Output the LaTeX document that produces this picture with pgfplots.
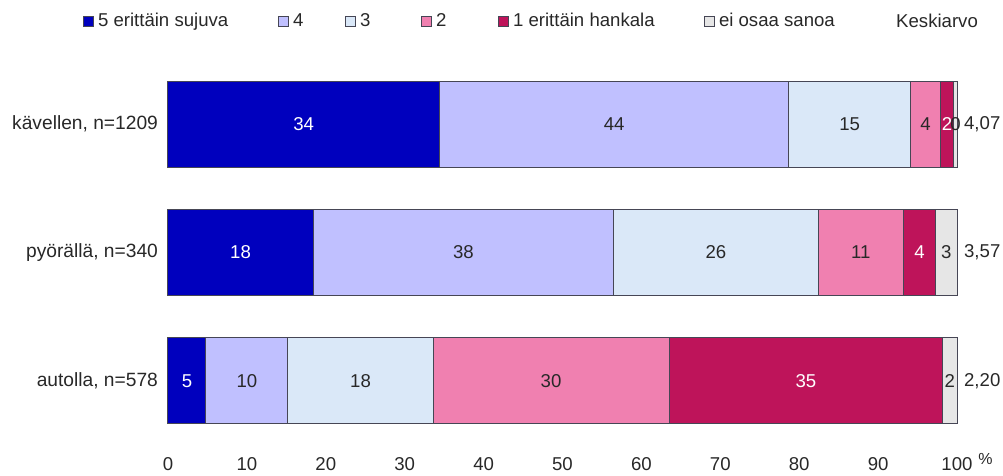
\documentclass[border=0pt]{standalone}
\usepackage{pgfplots}
\pgfplotsset{compat=1.18}
\usepackage{pgfplotstable}
\usepackage{fontspec}
\setmainfont{Liberation Sans}
\definecolor{c5}{RGB}{0,0,190}
\definecolor{c4}{RGB}{192,192,255}
\definecolor{c3}{RGB}{218,232,248}
\definecolor{c2}{RGB}{240,128,176}
\definecolor{c1}{RGB}{190,20,90}
\definecolor{c0}{RGB}{230,230,230}
\definecolor{edge}{RGB}{70,70,85}
\definecolor{txt}{RGB}{40,40,40}

\pgfplotstableread{
row s5 s4 s3 s2 s1 s0
0 34.4 44.3 15.4 3.8 1.7 0.4
1 18.4 38.1 25.9 10.8 4.1 2.7
2 4.8 10.4 18.4 29.9 34.7 1.8
}\data

\pgfplotsset{
  seg/.style={fill=#1, draw=edge, line width=0.5pt},
  lab/.style={draw=none, mark=none, point meta=explicit,
    nodes near coords={\pgfmathprintnumber[fixed,precision=0]{\pgfplotspointmeta}},
    every node near coord/.append style={anchor=center, text=#1}},
  common/.style={at={(84pt,15.5pt)}, anchor=south west,
    scale only axis, width=394.5pt, height=192.5pt,
    xmin=0, xmax=100, ymin=-0.5, ymax=2.5, y dir=reverse, clip=false,
    /pgf/number format/assume math mode=true},
}

\begin{document}
\begin{tikzpicture}[font=\fontsize{9.3}{11}\selectfont, text=txt]
\path[use as bounding box] (0,0) rectangle (501.5pt,238pt);
\begin{axis}[
  common,
  xbar stacked, bar width=0.672,
  xtick={0,10,...,100}, ytick={0,1,2},
  yticklabels={{kävellen, n=1209},{pyörällä, n=340},{autolla, n=578}},
  axis line style={draw=none}, major tick length=0pt,
  xticklabel style={yshift=-2.5pt},
  yticklabel style={xshift=-1.5pt, font=\fontsize{9.6}{11}\selectfont},
  legend columns=-1,
  legend image code/.code={\draw[#1,line width=0.5pt] (0pt,-2.5pt) rectangle (5pt,2.5pt);},
  legend cell align=left,
  legend style={at={(axis description cs:-0.1077,1.100)}, anchor=west,
    draw=none, fill=none, inner sep=0pt, outer sep=0pt,
    nodes={inner sep=0pt, outer sep=0pt}, column sep=0pt},
]
\addplot[seg=c5] table[x=s5,y=row]{\data};
\addplot[seg=c4] table[x=s4,y=row]{\data};
\addplot[seg=c3] table[x=s3,y=row]{\data};
\addplot[seg=c2] table[x=s2,y=row]{\data};
\addplot[seg=c1] table[x=s1,y=row]{\data};
\addplot[seg=c0] table[x=s0,y=row]{\data};
\legend{{\makebox[92pt][l]{\hspace{2pt}5 erittäin sujuva}},
  {\makebox[28pt][l]{\hspace{2pt}4}},
  {\makebox[32.5pt][l]{\hspace{2pt}3}},
  {\makebox[33pt][l]{\hspace{2pt}2}},
  {\makebox[97.5pt][l]{\hspace{2pt}1 erittäin hankala}},
  {\hspace{2pt}ei osaa sanoa}}
\node at (axis cs:103.2,0) {4,07};
\node at (axis cs:103.2,1) {3,57};
\node at (axis cs:103.2,2) {2,20};
\node at (axis description cs:0.9747,1.102) {Keskiarvo};
\node[font=\fontsize{8}{9}\selectfont] at (axis cs:103.6,2.61) {\%};
\end{axis}
\begin{axis}[common, hide axis]
\addplot[lab=white] table[x expr=\thisrow{s5}/2, y=row, meta=s5]{\data};
\addplot[lab=txt] table[x expr=\thisrow{s5}+\thisrow{s4}/2, y=row, meta=s4]{\data};
\addplot[lab=txt] table[x expr=\thisrow{s5}+\thisrow{s4}+\thisrow{s3}/2, y=row, meta=s3]{\data};
\addplot[lab=txt] table[x expr=\thisrow{s5}+\thisrow{s4}+\thisrow{s3}+\thisrow{s2}/2, y=row, meta=s2]{\data};
\addplot[lab=white] table[x expr=\thisrow{s5}+\thisrow{s4}+\thisrow{s3}+\thisrow{s2}+\thisrow{s1}/2, y=row, meta=s1]{\data};
\addplot[lab=txt] table[x expr=\thisrow{s5}+\thisrow{s4}+\thisrow{s3}+\thisrow{s2}+\thisrow{s1}+\thisrow{s0}/2, y=row, meta=s0]{\data};
\end{axis}
\end{tikzpicture}
\end{document}
